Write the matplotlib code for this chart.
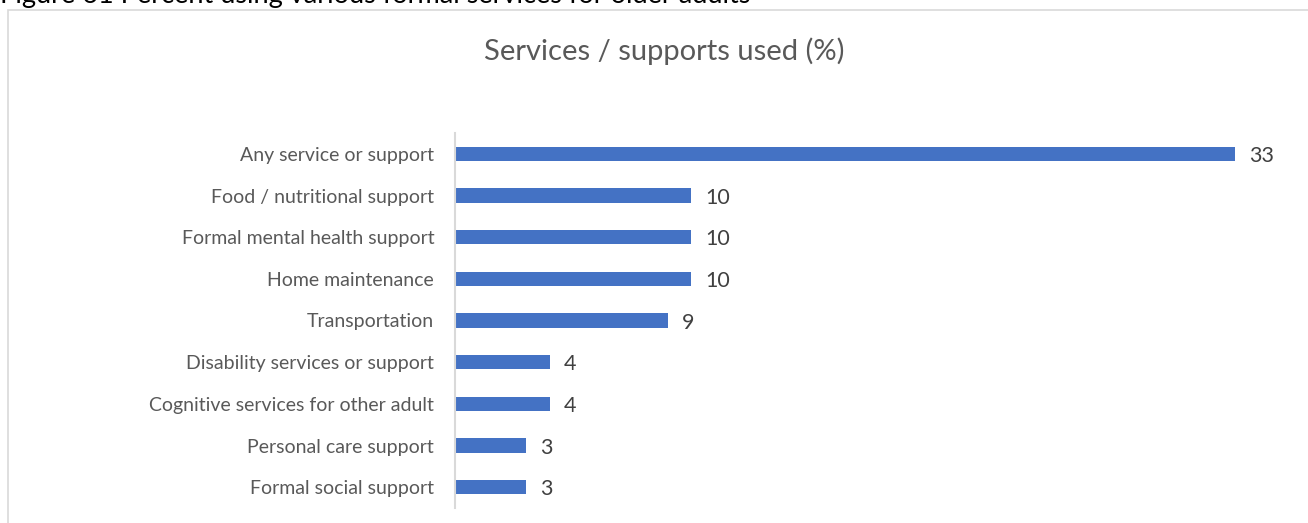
"""Horizontal bar chart: services / supports used by older adults (%)."""

import matplotlib.pyplot as plt
from matplotlib.patches import Rectangle

CATEGORIES = [
    "Any service or support",
    "Food / nutritional support",
    "Formal mental health support",
    "Home maintenance",
    "Transportation",
    "Disability services or support",
    "Cognitive services for other adult",
    "Personal care support",
    "Formal social support",
]
VALUES = [33, 10, 10, 10, 9, 4, 4, 3, 3]

TITLE = "Services / supports used (%)"
CAPTION = "Figure 61 Percent using various formal services for older adults"

BAR_COLOR = "#4472C4"
TEXT_COLOR = "#595959"
GRID_COLOR = "#D9D9D9"

plt.rcParams["font.family"] = ["Lato", "DejaVu Sans"]

fig = plt.figure(figsize=(13.08, 5.23), dpi=100)
fig.patch.set_facecolor("white")

# chart frame (extends past right / bottom edges, as in the screenshot)
fig.patches.append(Rectangle((8 / 1308, -0.05), 1.1, 0.05 + 1 - 10 / 523,
                             transform=fig.transFigure, fill=False,
                             edgecolor=GRID_COLOR, linewidth=1.2))

# caption cut off at the top of the image
fig.text(0.0, 1 - 3 / 523, CAPTION, ha="left", va="baseline",
         fontsize=19.5, color="black")

fig.text(664 / 1308, 1 - 51 / 523, TITLE, ha="center", va="center",
         fontsize=21, color=TEXT_COLOR)

ax = fig.add_axes([455 / 1308, 1 - 508 / 523, 827 / 1308, 375 / 523])
ypos = list(range(len(CATEGORIES)))
ax.barh(ypos, VALUES, height=0.35, color=BAR_COLOR)
ax.set_ylim(len(CATEGORIES) - 0.5, -0.5)
ax.set_xlim(0, 35)

ax.set_yticks(ypos)
ax.set_yticklabels(CATEGORIES, fontsize=14, color=TEXT_COLOR)
ax.tick_params(axis="y", length=0, pad=15)
ax.set_xticks([])

for s in ["top", "right", "bottom"]:
    ax.spines[s].set_visible(False)
ax.spines["left"].set_color(GRID_COLOR)
ax.spines["left"].set_linewidth(1.5)

for y, v in zip(ypos, VALUES):
    ax.text(v + 0.6, y + 0.05, f"{v}", ha="left", va="center",
            fontsize=15.5, color="#404040")

fig.savefig("out.png", dpi=100, facecolor="white")
